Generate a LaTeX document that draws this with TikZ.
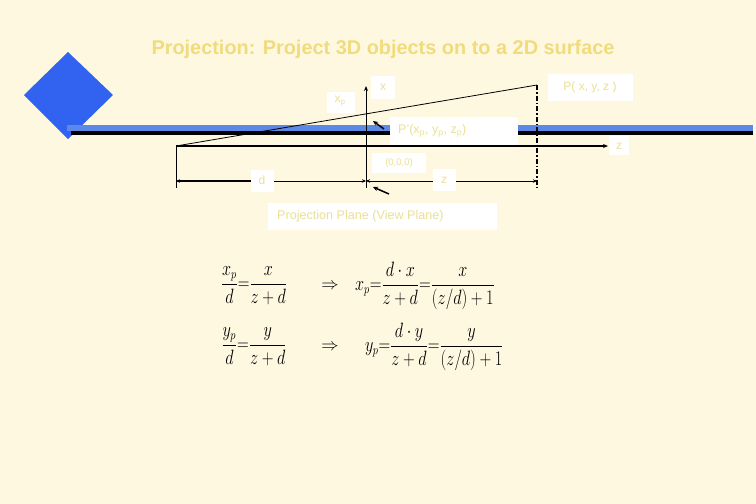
\documentclass[tikz,border=0pt]{standalone}
\usepackage{fontspec}
\setmainfont{Liberation Sans}
\usetikzlibrary{arrows.meta}
\definecolor{bg}{RGB}{255,248,225}
\definecolor{ttl}{RGB}{240,220,125}
\definecolor{lbl}{RGB}{234,224,150}
\definecolor{barblue}{RGB}{92,136,230}
\definecolor{dblue}{RGB}{50,98,240}
\tikzset{
  wbox/.style={fill=white, draw=none, inner sep=0pt},
  lbl/.style={text=lbl, inner sep=0pt, font=\fontsize{12}{14}\selectfont},
  eq/.style={inner sep=0pt, font=\fontsize{16}{19}\selectfont},
  ax/.style={line width=1pt, draw=black},
  tip/.style={-{Stealth[length=5pt,width=4pt]}},
}
\newcommand{\eqbox}[1]{\scalebox{0.94}[1.2]{#1}}
\begin{document}
\begin{tikzpicture}[x=1pt,y=-1pt]
\fill[bg] (0,0) rectangle (756,504);
\useasboundingbox (0,0) rectangle (756,504);

% title
\node[text=ttl, font=\bfseries\fontsize{19.9}{23}\selectfont, inner sep=0pt] (title) at (383,49) {Projection: Project 3D objects on to a 2D surface};

% diamond and bar
\fill[dblue] (68,52) -- (113,95) -- (68,139) -- (24,95) -- cycle;
\fill[barblue] (67,125) rectangle (753,131);
\fill[black] (71,131) rectangle (753,135);

% key points
\coordinate (E) at (176,146);
\coordinate (P) at (537,85);
\coordinate (O) at (366,146);
\coordinate (Ztip) at (608,146);
\coordinate (Xtop) at (366,86);
\coordinate (Xbot) at (366,188);
\coordinate (Ebot) at (176,188);
\coordinate (Pbot) at (537,189);
\coordinate (DL) at (176,181);
\coordinate (DO) at (366,181);
\coordinate (DR) at (537,181);

% axes and lines
\draw[line width=0.8pt] (E) -- (P);
\draw[ax, tip] (Xbot) -- (Xtop);
\draw[line width=1.6pt, -{Stealth[length=5pt,width=4pt]}] (E) -- (Ztip);
\draw[ax] (E) -- (Ebot);
\draw[line width=1.7pt, dash pattern=on 5pt off 2pt on 1.5pt off 2pt] (P) -- (Pbot);
\draw[line width=1.6pt, {Stealth[length=4pt,width=3.5pt]}-] (DL) -- (262,181);
\draw[line width=1pt, -{Stealth[length=4pt,width=3.5pt]}] (262,181) -- (DO);
\draw[line width=1pt, {Stealth[length=4pt,width=3.5pt]}-{Stealth[length=4pt,width=3.5pt]}] (DO) -- (DR);

% pointer arrows
\coordinate (a1) at (384,129);
\coordinate (a2) at (373,121);
\draw[line width=1.5pt, -{Stealth[length=5pt,width=4.5pt]}] (a1) -- (a2);
\coordinate (b1) at (389,194);
\coordinate (b2) at (373,187);
\draw[line width=1.5pt, -{Stealth[length=5pt,width=4.5pt]}] (b1) -- (b2);

% label boxes
\node[wbox, minimum width=28, minimum height=21] (xpB) at (341,102) {};
\node[lbl] (xpT) at (340,101) {x\textsubscript{p}};
\node[wbox, minimum width=24, minimum height=23] (xB) at (383,87) {};
\node[lbl] (xT) at (383,87) {x};
\node[wbox, minimum width=85, minimum height=27] (PB) at (590,87) {};
\node[lbl] (PT) at (590,87) {P( x, y, z )};
\node[wbox, minimum width=128, minimum height=28] (PpB) at (454,131) {};
\node[lbl, anchor=west, font=\fontsize{12.5}{14}\selectfont] (PpT) at (398,131) {P'(x\textsubscript{p}, y\textsubscript{p}, z\textsubscript{p})};
\node[wbox, minimum width=20, minimum height=19] (zB) at (619,145) {};
\node[lbl] (zT) at (619,146) {z};
\node[wbox, minimum width=54, minimum height=20] (oB) at (399,163) {};
\node[lbl, font=\fontsize{9.5}{11}\selectfont] (oT) at (399,163) {(0,0,0)};
\node[wbox, minimum width=23, minimum height=22] (dB) at (262,181) {};
\node[lbl] (dT) at (262,180) {d};
\node[wbox, minimum width=23, minimum height=22] (z2B) at (444,180) {};
\node[lbl] (z2T) at (444,180) {z};
\node[wbox, minimum width=229, minimum height=27] (ppB) at (382,216) {};
\node[lbl, anchor=west, font=\fontsize{12.6}{14}\selectfont] (ppT) at (277,216) {Projection Plane (View Plane)};

% equations
\node[eq] (e1l) at (254,286) {\eqbox{$\displaystyle \frac{x_p}{d}{=}\frac{x}{z+d}$}};
\node[eq] (e1m) at (330,286) {$\Rightarrow$};
\node[eq, anchor=west] (e1r) at (355,286) {\eqbox{$\displaystyle x_p{=}\frac{d\cdot x}{z+d}{=}\frac{x}{(z/d)+1}$}};
\node[eq] (e2l) at (254,347) {\eqbox{$\displaystyle \frac{y_p}{d}{=}\frac{y}{z+d}$}};
\node[eq] (e2m) at (330,347) {$\Rightarrow$};
\node[eq, anchor=west] (e2r) at (365,347) {\eqbox{$\displaystyle y_p{=}\frac{d\cdot y}{z+d}{=}\frac{y}{(z/d)+1}$}};
\end{tikzpicture}
\end{document}
